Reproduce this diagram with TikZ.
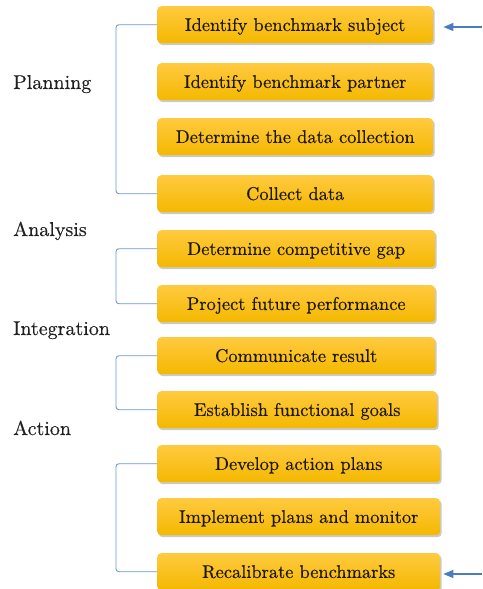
\documentclass[tikz,border=0pt]{standalone}
\usepackage{fontspec}
\newfontfamily\boxfont{lmroman10-regular.otf}[FakeBold=0.4]
\usetikzlibrary{shadows,arrows.meta}
\definecolor{boxtop}{HTML}{FFCA40}
\definecolor{boxbot}{HTML}{F4B800}
\definecolor{brk}{HTML}{6A98D0}
\definecolor{arr}{HTML}{4A7CC4}
\definecolor{txt}{HTML}{1E1800}
\definecolor{lbl}{HTML}{202020}
\begin{document}
\begin{tikzpicture}[x=1pt,y=-1pt,
  stepbox/.style={rounded corners=4pt, top color=boxtop, bottom color=boxbot, draw=none,
    drop shadow={shadow xshift=1.5pt, shadow yshift=-2pt, opacity=0.35, fill=black!60},
    font=\boxfont\fontsize{18.4}{22}\selectfont, text=txt, anchor=north west,
    text height=1.3em, text depth=0.05em,
    minimum height=37pt, inner sep=0pt},
  phase/.style={anchor=base west, font=\boxfont\fontsize{20}{23}\selectfont, text=lbl, inner sep=0pt},
  bracket/.style={draw=brk, line width=0.9pt, rounded corners=3pt},
  feed/.style={draw=arr, line width=1.2pt, -{Triangle[length=10pt,width=8pt]}}]
\useasboundingbox (0,0) rectangle (482,589);

\node[stepbox, minimum width=276pt] (b1) at (157,6) {Identify benchmark subject};
\node[stepbox, minimum width=276pt] (b2) at (157,63) {Identify benchmark partner};
\node[stepbox, minimum width=276pt] (b3) at (157,118) {Determine the data collection};
\node[stepbox, minimum width=276pt] (b4) at (157,175) {Collect data};
\node[stepbox, minimum width=278pt] (b5) at (157,230) {Determine competitive gap};
\node[stepbox, minimum width=278pt] (b6) at (157,285) {Project future performance};
\node[stepbox, minimum width=278pt] (b7) at (157,337) {Communicate result};
\node[stepbox, minimum width=280pt] (b8) at (157,391) {Establish functional goals};
\node[stepbox, minimum width=283pt] (b9) at (157,445) {Develop action plans};
\node[stepbox, minimum width=283pt] (b10) at (157,498) {Implement plans and monitor};
\node[stepbox, minimum width=283pt] (b11) at (157,553) {Recalibrate benchmarks};

\node[phase] (p1) at (13,89) {Planning};
\node[phase] (p2) at (13,236) {Analysis};
\node[phase] (p3) at (13,335) {Integration};
\node[phase] (p4) at (13,435) {Action};

\draw[bracket] (b1.west) -- ([xshift=-41pt]b1.west) |- (b4.west);
\draw[bracket] (b5.west) -- ([xshift=-41pt]b5.west) |- (b6.west);
\draw[bracket] (b7.west) -- ([xshift=-41pt]b7.west) |- (b8.west);
\draw[bracket] (b9.west) -- ([xshift=-41pt]b9.west) |- (b11.west);

\coordinate (in1) at (482,27);
\coordinate (in2) at (482,574);
\coordinate (t1) at ([xshift=10pt]b1.east);
\coordinate (t2) at ([xshift=3pt]b11.east);
\draw[feed] (in1) -- (in1 -| t1);
\draw[feed] (in2) -- (in2 -| t2);
\end{tikzpicture}
\end{document}
